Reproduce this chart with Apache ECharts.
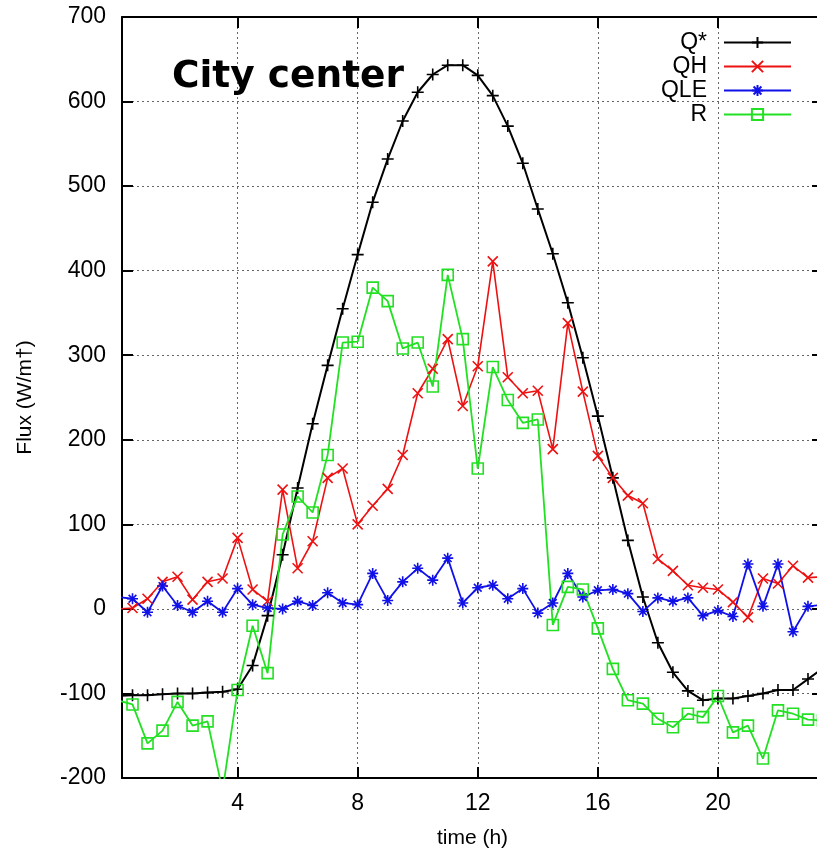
<!DOCTYPE html>
<html><head><meta charset="utf-8">
<script src="https://cdn.jsdelivr.net/npm/echarts@6/dist/echarts.min.js"></script>
<style>html,body{margin:0;padding:0;background:#fff}#c{width:817px;height:850px}</style>
</head><body><div id="c"></div>
<script>
const times = [0,0.5,1,1.5,2,2.5,3,3.5,4,4.5,5,5.5,6,6.5,7,7.5,8,8.5,9,9.5,10,10.5,11,11.5,12,12.5,13,13.5,14,14.5,15,15.5,16,16.5,17,17.5,18,18.5,19,19.5,20,20.5,21,21.5,22,22.5,23,23.5];
const seriesNames = ['Q*','QH','QLE','R'];
const qStar = [-103,-102,-102,-101,-100,-100,-99,-98,-95,-67,-8,64,143,219,288,355,419,481,532,577,611,632,643,643,631,607,571,527,473,420,362,297,228,155,81,14,-40,-75,-97,-108,-106,-106,-103,-100,-96,-96,-83,-70];
const qH = [0,1,12,32,38,11,32,36,84,23,9,141,48,80,155,166,100,122,142,182,255,284,319,240,287,411,274,255,258,189,338,257,181,155,134,125,59,45,28,25,23,8,-10,36,30,51,37,38];
const qLE = [14,12,-4,27,4,-4,9,-4,24,5,1,0,9,4,19,7,5,42,10,32,48,34,60,7,25,28,12,24,-5,7,42,14,22,23,18,-3,13,9,13,-8,-2,-9,53,3,53,-27,3,5];
const rRes = [-108,-113,-159,-144,-110,-138,-133,-215,-96,-20,-76,88,133,114,182,315,316,380,364,308,315,263,395,319,166,286,247,220,224,-19,26,23,-23,-71,-108,-112,-130,-140,-124,-128,-103,-146,-138,-177,-120,-124,-131,-132];
const xTicks = [4,8,12,16,20];
const yTicks = [-200,-100,0,100,200,300,400,500,600,700];

const pts = arr => times.map((t,i)=>[t, arr[i]]);
const FONT = 'Liberation Sans';
const FS = 23;
const plusSym = 'path://M0,5L10,5M5,0L5,10';
const xSym = 'path://M0,0L10,10M10,0L0,10';
const starSym = 'path://M0,5L10,5M5,0L5,10M1.5,1.5L8.5,8.5M8.5,1.5L1.5,8.5';
const sqSym = 'path://M0,0L10,0L10,10L0,10Z';

function mk(name, arr, color, sym, size, lw, bw){
  return {
    name, type:'line', data: pts(arr), xAxisIndex:0, yAxisIndex:0,
    symbol: sym, symbolSize: size, showAllSymbol:true, clip:true,
    lineStyle:{color, width:lw},
    itemStyle:{color:'rgba(0,0,0,0)', borderColor:color, borderWidth:bw},
    emphasis:{disabled:true}, animation:false, z: 3
  };
}

const chart = echarts.init(document.getElementById('c'), null, {renderer:'canvas'});
const axCommon = {
  min: 0.15, max: 23.5, minInterval: 4, maxInterval: 4,
};
chart.setOption({
  animation:false,
  backgroundColor:'#fff',
  grid:{left:122, top:17, bottom:72, right:-6, containLabel:false, outerBoundsMode:'none'},
  graphic:[{type:'text', left:172, top:58, style:{text:'City center', font:'bold 37.5px "DejaVu Sans"', fill:'#000'}, z:10}],
  legend:{
    orient:'vertical', right:20, top:26, align:'right', itemWidth:67, itemHeight:14, itemGap:1,
    textStyle:{fontFamily:FONT, fontSize:FS, color:'#000', padding:[0,12,0,0]},
    data: seriesNames, selectedMode:false
  },
  xAxis:[
    Object.assign({type:'value', position:'bottom',
      name:'time (h)', nameLocation:'middle', nameGap:50,
      nameTextStyle:{fontFamily:FONT, fontSize:21, color:'#000'},
      axisLine:{show:true, onZero:false, lineStyle:{color:'#000', width:2}},
      axisTick:{show:true, inside:true, length:11, lineStyle:{color:'#000', width:2}},
      axisLabel:{show:true, margin:14, fontFamily:FONT, fontSize:FS, color:'#000', showMinLabel:false, showMaxLabel:false},
      splitLine:{show:true, lineStyle:{color:'#666', width:1, type:[2,3]}}
    }, axCommon),
    Object.assign({type:'value', position:'top',
      axisLine:{show:true, onZero:false, lineStyle:{color:'#000', width:2}},
      axisTick:{show:true, inside:true, length:11, lineStyle:{color:'#000', width:2}},
      axisLabel:{show:false}, splitLine:{show:false}
    }, axCommon)
  ],
  yAxis:[
    {type:'value', position:'left', min:-200, max:700, interval:100,
      name:'Flux (W/m†)', nameLocation:'middle', nameGap:86, nameRotate:90,
      nameTextStyle:{fontFamily:FONT, fontSize:21, color:'#000'},
      axisLine:{show:true, onZero:false, lineStyle:{color:'#000', width:2}},
      axisTick:{show:true, inside:true, length:11, lineStyle:{color:'#000', width:2}},
      axisLabel:{show:true, margin:16, fontFamily:FONT, fontSize:FS, color:'#000'},
      splitLine:{show:true, lineStyle:{color:'#666', width:1, type:[2,3]}}
    },
    {type:'value', position:'right', min:-200, max:700, interval:100,
      axisLine:{show:true, onZero:false, lineStyle:{color:'#000', width:2}},
      axisTick:{show:true, inside:true, length:11, lineStyle:{color:'#000', width:2}},
      axisLabel:{show:false}, splitLine:{show:false}
    }
  ],
  series:[
    mk('Q*', qStar, '#000000', plusSym, 12, 2, 1.6),
    mk('QH', qH, '#ee1111', xSym, 10, 1.6, 1.6),
    mk('QLE', qLE, '#1010e8', starSym, 11, 1.8, 1.6),
    mk('R', rRes, '#22e022', sqSym, 11, 1.8, 1.6)
  ]
});
</script></body></html>
